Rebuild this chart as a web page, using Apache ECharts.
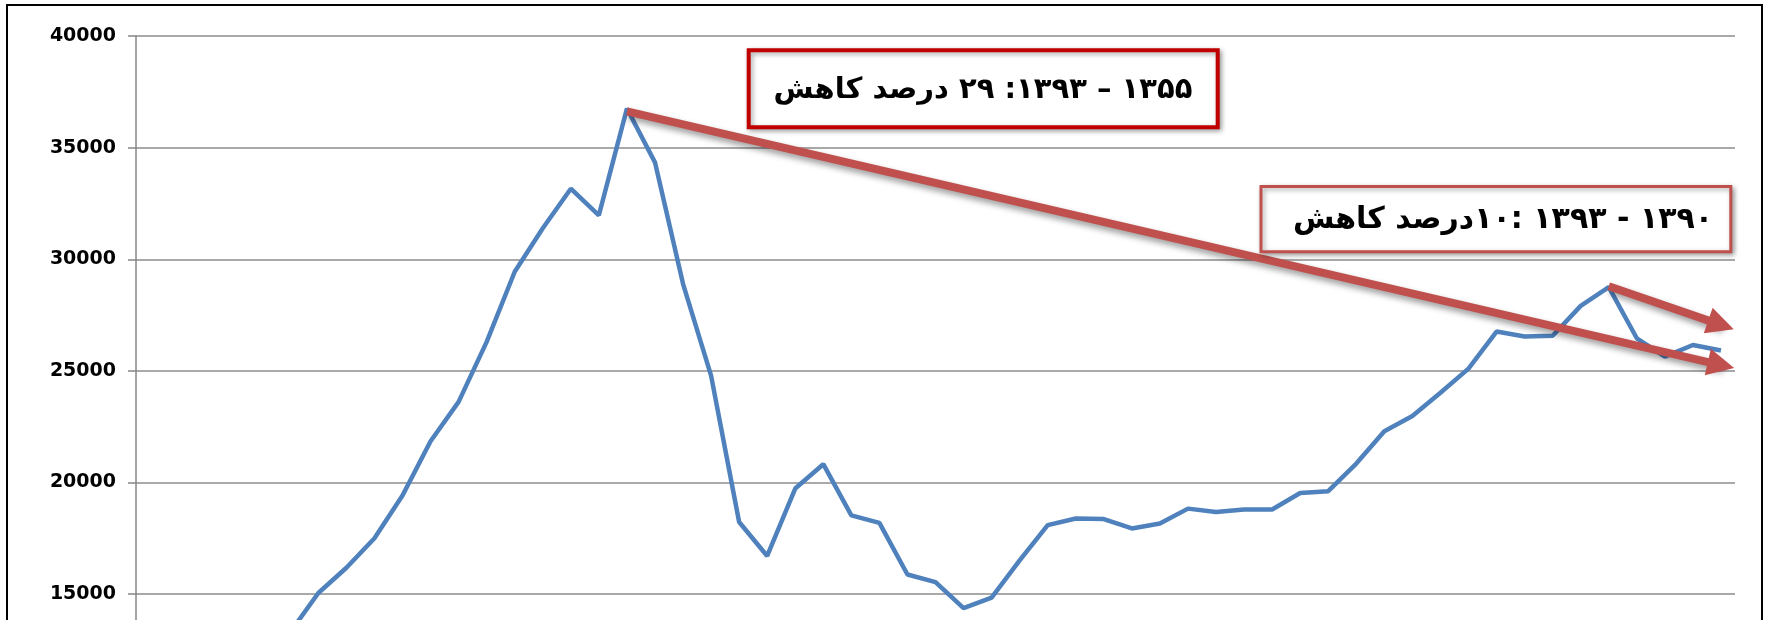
<!DOCTYPE html>
<html>
<head>
<meta charset="utf-8">
<script src="https://cdn.jsdelivr.net/npm/echarts@6/dist/echarts.min.js"></script>
<style>
html, body { margin: 0; padding: 0; background: #fff; }
#main { width: 1768px; height: 620px; }
</style>
</head>
<body>
<div id="main"></div>
<script>
// years (solar hijri), the axis labels sit below the visible crop
var years = ['1338', '1339', '1340', '1341', '1342', '1343', '1344', '1345', '1346', '1347',
    '1348', '1349', '1350', '1351', '1352', '1353', '1354', '1355', '1356', '1357',
    '1358', '1359', '1360', '1361', '1362', '1363', '1364', '1365', '1366', '1367',
    '1368', '1369', '1370', '1371', '1372', '1373', '1374', '1375', '1376', '1377',
    '1378', '1379', '1380', '1381', '1382', '1383', '1384', '1385', '1386', '1387',
    '1388', '1389', '1390', '1391', '1392', '1393', '1394'];
var values = [8700, 9600, 10500, 11400, 12300, 13300, 15050, 16180, 17500, 19420,
    21850, 23610, 26300, 29440, 31390, 33160, 31970, 36750, 34340, 28900,
    24790, 18230, 16710, 19730, 20820, 18530, 18190, 15880, 15540, 14370,
    14840, 16510, 18090, 18390, 18360, 17940, 18160, 18830, 18680, 18790,
    18790, 19530, 19610, 20850, 22300, 22980, 24020, 25100, 26760, 26540,
    26570, 27910, 28750, 26460, 25640, 26160, 25910];
var yMin = 0, yMax = 40000, yStep = 5000;

// arrows: [category index, value] start -> end
var arrowLong = [[17, 36625], [56, 25260]];
var arrowShort = [[52, 28790], [56, 27060]];

var note1 = '۱۳۵۵ – ۱۳۹۳: ۲۹ درصد کاهش';
var note2 = '۱۳۹۰ - ۱۳۹۳ :۱۰درصد کاهش';
var RLE = '\u202B', PDF = '\u202C';

var chartDom = document.getElementById('main');
var myChart = echarts.init(chartDom);

function arrowItem(a) {
    return [
        { coord: [years[a[0][0]], a[0][1]] },
        { coord: [years[a[1][0]], a[1][1]] }
    ];
}

var option = {
    backgroundColor: '#fff',
    animation: false,
    grid: {
        left: 136,
        top: 36,
        width: 1599,
        height: 893,
        containLabel: false,
        outerBoundsMode: 'none'
    },
    xAxis: {
        type: 'category',
        data: years,
        boundaryGap: true,
        axisLine: { lineStyle: { color: '#868686' } },
        axisTick: { show: false },
        axisLabel: { color: '#000' }
    },
    yAxis: {
        type: 'value',
        min: yMin,
        max: yMax,
        interval: yStep,
        axisLine: {
            show: true,
            lineStyle: { color: '#868686', width: 1.5 }
        },
        axisTick: {
            show: true,
            length: 8,
            lineStyle: { color: '#868686', width: 1.5 }
        },
        splitLine: {
            show: true,
            lineStyle: { color: '#8c8c8c', width: 1.5 }
        },
        axisLabel: {
            color: '#000',
            fontFamily: 'DejaVu Sans',
            fontWeight: 'bold',
            fontSize: 19,
            margin: 20,
            formatter: function (v) { return String(v); }
        }
    },
    series: [
        {
            type: 'line',
            data: values,
            symbol: 'none',
            lineStyle: { color: '#4F81BD', width: 4.5 },
            itemStyle: { color: '#4F81BD' },
            markLine: {
                silent: true,
                animation: false,
                symbol: ['none', 'triangle'],
                symbolSize: 27,
                label: { show: false },
                itemStyle: { color: '#C0504D' },
                lineStyle: {
                    color: '#C0504D',
                    width: 8,
                    type: 'solid',
                    shadowColor: 'rgba(0,0,0,0.4)',
                    shadowBlur: 6,
                    shadowOffsetX: 2,
                    shadowOffsetY: 4
                },
                data: [arrowItem(arrowLong), arrowItem(arrowShort)]
            }
        }
    ],
    graphic: [
        {
            type: 'rect', silent: true, z: 100,
            shape: { x: 7, y: 5, width: 1755, height: 700 },
            style: { fill: null, stroke: '#000', lineWidth: 2 }
        },
        {
            type: 'rect', silent: true, z: 110,
            shape: { x: 748.7, y: 50.3, width: 469, height: 77 },
            style: {
                fill: '#fff', stroke: '#C00000', lineWidth: 4,
                shadowBlur: 5, shadowColor: 'rgba(0,0,0,0.35)', shadowOffsetX: 2, shadowOffsetY: 2
            }
        },
        {
            type: 'text', silent: true, z: 111,
            x: 983, y: 90,
            style: {
                text: RLE + note1 + PDF,
                font: 'bold 29px "DejaVu Sans"',
                fill: '#000',
                align: 'center', verticalAlign: 'middle',
                textAlign: 'center', textVerticalAlign: 'middle'
            }
        },
        {
            type: 'rect', silent: true, z: 110,
            shape: { x: 1261, y: 186.5, width: 469.8, height: 65.3 },
            style: {
                fill: '#fff', stroke: '#C0504D', lineWidth: 3,
                shadowBlur: 5, shadowColor: 'rgba(0,0,0,0.35)', shadowOffsetX: 2, shadowOffsetY: 2
            }
        },
        {
            type: 'text', silent: true, z: 111,
            x: 1503, y: 220,
            style: {
                text: RLE + note2 + PDF,
                font: 'bold 30px "DejaVu Sans"',
                fill: '#000',
                align: 'center', verticalAlign: 'middle',
                textAlign: 'center', textVerticalAlign: 'middle'
            }
        }
    ]
};
myChart.setOption(option);
</script>
</body>
</html>
